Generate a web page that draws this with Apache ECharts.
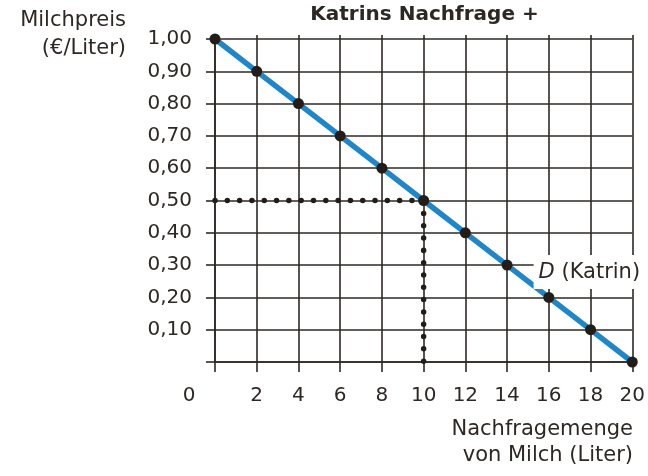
<!DOCTYPE html>
<html>
<head>
<meta charset="utf-8">
<script src="https://cdn.jsdelivr.net/npm/echarts@6/dist/echarts.min.js"></script>
<style>
html,body{margin:0;padding:0;background:#fff;}
#c{width:648px;height:476px;}
</style>
</head>
<body>
<div id="c"></div>
<script>
// Data
var quantity = [0, 2, 4, 6, 8, 10, 12, 14, 16, 18, 20];
var price = [1.00, 0.90, 0.80, 0.70, 0.60, 0.50, 0.40, 0.30, 0.20, 0.10, 0.00];
var guideX = [0, 10, 10];
var guideY = [0.50, 0.50, 0.00];
var xTicks = [0, 2, 4, 6, 8, 10, 12, 14, 16, 18, 20];
var yTicks = [0.10, 0.20, 0.30, 0.40, 0.50, 0.60, 0.70, 0.80, 0.90, 1.00];
var curveLabel = 'D (Katrin)';
var labelAtQuantity = 14;
var titleText = 'Katrins Nachfrage +';
var yName = 'Milchpreis\n(€/Liter)';
var xName = 'Nachfragemenge\nvon Milch (Liter)';

var ink = '#2e2825';
var blue = '#1f86c9';
var font = 'DejaVu Sans';

var chart = echarts.init(document.getElementById('c'), null, {renderer: 'canvas'});

var mainData = quantity.map(function (q, i) {
  var item = {value: [q, price[i]]};
  if (q === labelAtQuantity) {
    item.label = {
      show: true,
      position: 'right',
      offset: [16, 7],
      formatter: '{d|D} (Katrin)',
      color: ink,
      fontFamily: font,
      fontSize: 21,
      backgroundColor: '#ffffff',
      padding: [7, 4, 6, 5],
      rich: {
        d: {fontStyle: 'italic', fontFamily: font, fontSize: 21, color: ink}
      }
    };
  }
  return item;
});

var guideData = guideX.map(function (x, i) { return [x, guideY[i]]; });

chart.setOption({
  animation: false,
  backgroundColor: '#ffffff',
  title: [
    {
      text: titleText,
      left: 424.5, top: 3, textAlign: 'center', padding: 0,
      textStyle: {fontFamily: font, fontWeight: 'bold', fontSize: 20, lineHeight: 24, color: ink}
    },
    {
      text: yName,
      left: 126, top: 7, textAlign: 'right', padding: 0,
      textStyle: {fontFamily: font, fontWeight: 'normal', fontSize: 21, lineHeight: 28, color: ink, align: 'right'}
    },
    {
      text: xName,
      left: 633, top: 417, textAlign: 'right', padding: 0,
      textStyle: {fontFamily: font, fontWeight: 'normal', fontSize: 21, lineHeight: 26, color: ink, align: 'right'}
    }
  ],
  grid: {left: 215, right: 14, top: 39, bottom: 114, containLabel: false},
  xAxis: [
    {
      type: 'value', min: 0, max: 20, interval: 2,
      axisLine: {show: true, lineStyle: {color: ink, width: 1.6}},
      axisTick: {show: true, length: 10, lineStyle: {color: ink, width: 1.6}},
      splitLine: {show: true, lineStyle: {color: ink, width: 1.6}},
      axisLabel: {
        margin: 24, color: ink, fontFamily: font, fontSize: 20, lineHeight: 20,
        formatter: function (v) {
          if (xTicks.indexOf(v) < 0) return '';
          return v === 0 ? '{z|0}' : String(v);
        },
        rich: {z: {fontFamily: font, fontSize: 20, color: ink, padding: [0, 52, 0, 0]}}
      }
    },
    {
      type: 'value', min: 0, max: 20, interval: 2, position: 'top',
      axisLine: {show: false},
      axisTick: {show: true, length: 4, lineStyle: {color: ink, width: 1.6}},
      splitLine: {show: false},
      axisLabel: {show: false}
    }
  ],
  yAxis: {
    type: 'value', min: 0, max: 1, interval: 0.1,
    axisLine: {show: true, lineStyle: {color: ink, width: 1.6}},
    axisTick: {show: true, length: 9, lineStyle: {color: ink, width: 1.6}},
    splitLine: {show: true, lineStyle: {color: ink, width: 1.6}},
    axisLabel: {
      margin: 23, color: ink, fontFamily: font, fontSize: 20,
      formatter: function (v) {
        var r = Math.round(v * 100) / 100;
        for (var i = 0; i < yTicks.length; i++) {
          if (Math.abs(yTicks[i] - r) < 1e-6) return yTicks[i].toFixed(2).replace('.', ',');
        }
        return '';
      }
    }
  },
  series: [
    {
      type: 'line',
      data: guideData,
      symbol: 'none',
      z: 3,
      lineStyle: {color: '#231d1a', width: 5.5, type: [0.01, 12.3], cap: 'round'}
    },
    {
      type: 'line',
      data: mainData,
      symbol: 'circle',
      symbolSize: 11,
      itemStyle: {color: '#231d1a'},
      lineStyle: {color: blue, width: 5.5},
      z: 4
    }
  ]
});
</script>
</body>
</html>
